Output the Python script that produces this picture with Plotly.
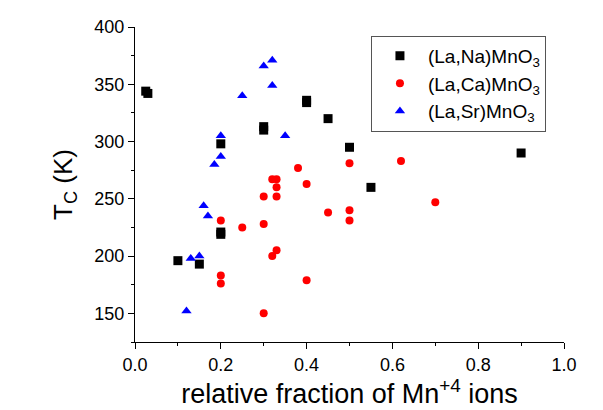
import plotly.graph_objects as go

# (La,Na)MnO3
na_x = [0.025, 0.03, 0.10, 0.15, 0.20, 0.20, 0.20, 0.30, 0.30, 0.40, 0.40, 0.45, 0.50, 0.55, 0.90]
na_y = [344, 342, 196, 193, 298, 221, 219, 310, 313, 334, 336, 320, 295, 260, 290]

# (La,Ca)MnO3
ca_x = [0.20, 0.20, 0.20, 0.25, 0.30, 0.30, 0.30, 0.32, 0.33, 0.33, 0.33, 0.32, 0.33,
        0.38, 0.40, 0.40, 0.45, 0.50, 0.50, 0.50, 0.62, 0.70]
ca_y = [231, 183, 176, 225, 252, 228, 150, 267, 267, 260, 252, 200, 205,
        277, 263, 179, 238, 281, 240, 231, 283, 247]

# (La,Sr)MnO3
sr_x = [0.12, 0.13, 0.15, 0.16, 0.17, 0.185, 0.20, 0.20, 0.25, 0.30, 0.32, 0.32, 0.35]
sr_y = [152, 198, 200, 244, 235, 280, 287, 305, 340, 366, 371, 349, 305]

names = ["(La,Na)MnO<sub>3</sub>", "(La,Ca)MnO<sub>3</sub>", "(La,Sr)MnO<sub>3</sub>"]

fig = go.Figure()
fig.add_trace(go.Scatter(x=na_x, y=na_y, mode="markers", name=names[0],
                         marker=dict(symbol="square", size=9, color="black")))
fig.add_trace(go.Scatter(x=ca_x, y=ca_y, mode="markers", name=names[1],
                         marker=dict(symbol="circle", size=8, color="#ff0000")))
fig.add_trace(go.Scatter(x=sr_x, y=sr_y, mode="markers", name=names[2],
                         marker=dict(symbol="triangle-up", size=9, color="#0000ff")))

font = "Liberation Sans, Arial, sans-serif"
ax_common = dict(showline=True, linecolor="black", linewidth=1.4, showgrid=False,
                 zeroline=False, ticks="outside", ticklen=6, tickwidth=1.4, tickcolor="black",
                 automargin=False)

fig.update_layout(
    width=603, height=410,
    margin=dict(l=135, r=39, t=27, b=68),
    paper_bgcolor="white", plot_bgcolor="white",
    font=dict(family=font, color="black", size=18),
    showlegend=True,
    legend=dict(x=0.55, y=0.972, xanchor="left", yanchor="top",
                bordercolor="#555", borderwidth=1, bgcolor="white", itemwidth=46,
                font=dict(size=19, family=font)),
    xaxis=dict(range=[0, 1.0], dtick=0.2, tickformat=".1f",
               minor=dict(dtick=0.1, ticks="outside", ticklen=3, tickcolor="black", tickwidth=1.4),
               title=dict(text="relative fraction of Mn<sup>+4</sup> ions", font=dict(size=27), standoff=10),
               tickfont=dict(size=18), **ax_common),
    yaxis=dict(range=[125, 400], dtick=50, tick0=150,
               minor=dict(dtick=25, ticks="outside", ticklen=3, tickcolor="black", tickwidth=1.4),
               title=dict(text="T<sub>C</sub> (K)", font=dict(size=26), standoff=14),
               tickfont=dict(size=18), **ax_common),
    xaxis2=dict(overlaying="x", side="top", range=[0, 1.0], dtick=0.2, showticklabels=False,
                showline=True, linecolor="black", linewidth=1.4, showgrid=False, zeroline=False,
                ticks="inside", ticklen=6, tickwidth=1.4, tickcolor="black",
                minor=dict(dtick=0.1, ticks="inside", ticklen=3, tickcolor="black", tickwidth=1.4)),
    yaxis2=dict(overlaying="y", side="right", range=[125, 400], dtick=50, tick0=150, showticklabels=False,
                showline=True, linecolor="black", linewidth=1.4, showgrid=False, zeroline=False,
                ticks="inside", ticklen=6, tickwidth=1.4, tickcolor="black",
                minor=dict(dtick=25, ticks="inside", ticklen=3, tickcolor="black", tickwidth=1.4)),
)

fig.write_html("out.html")
